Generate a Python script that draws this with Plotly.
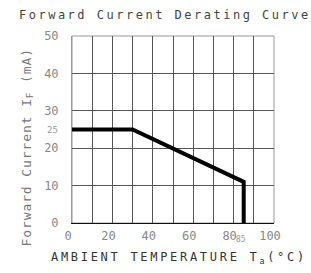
import plotly.graph_objects as go

# Data
temp = [0, 30, 85, 85]
current = [25, 25, 11, 0]
x_ticks = [0, 20, 40, 60, 80, 100]
y_ticks = [0, 10, 20, 30, 40, 50]
title_text = "Forward Current Derating Curve"
y_title = "Forward Current I<sub>F</sub> (mA)"
x_title = "AMBIENT TEMPERATURE T<sub>a</sub>(°C)"

FONT = "DejaVu Sans Mono"
GRID = "#555555"

fig = go.Figure()
fig.add_trace(go.Scatter(x=temp, y=current, mode="lines",
                         line=dict(color="black", width=4), showlegend=False,
                         hoverinfo="skip"))

fig.update_layout(
    template="none",
    width=311, height=273,
    margin=dict(l=72, r=37, t=36, b=50, pad=0, autoexpand=False),
    paper_bgcolor="white", plot_bgcolor="white",
    font=dict(family=FONT, color="#777777"),
)

PX = lambda px: (px - 72) / 202.0
PY = lambda py: (223 - py) / 187.0

# title as annotation for precise placement
fig.add_annotation(text='<span style="letter-spacing:2.5px">' + title_text + '</span>',
                   xref="paper", yref="paper",
                   x=PX(17), y=PY(15),
                   xanchor="left", yanchor="middle", showarrow=False,
                   font=dict(family=FONT, size=12, color="#444444"))

fig.update_xaxes(range=[0, 100], tickvals=x_ticks, automargin=False,
                 showgrid=True, gridcolor=GRID, gridwidth=1,
                 minor=dict(dtick=10, showgrid=True, gridcolor=GRID, gridwidth=1),
                 showline=True, linecolor="#111111", linewidth=1, mirror=False,
                 ticks="", ticklabelshift=-4, ticklabelstandoff=2,
                 tickfont=dict(family=FONT, size=12, color="#888888"),
                 zeroline=False, fixedrange=True)
fig.update_yaxes(range=[0, 50], tickvals=y_ticks, automargin=False,
                 showgrid=True, gridcolor=GRID, gridwidth=1,
                 showline=True, linecolor="#999999", linewidth=1,
                 ticks="", ticklabelstandoff=10,
                 tickfont=dict(family=FONT, size=12, color="#888888"),
                 zeroline=False, fixedrange=True)

# top and right borders
fig.add_shape(type="rect", xref="paper", yref="paper", x0=0, y0=0, x1=1, y1=1,
              line=dict(color="#999999", width=1), layer="below")

# small "25" label on y axis and "85" subscript on x axis
fig.add_annotation(text="25", xref="paper", yref="y", x=PX(60), y=25,
                   xanchor="right", yanchor="middle", showarrow=False,
                   font=dict(family=FONT, size=9, color="#999999"))
fig.add_annotation(text="85", xref="x", yref="paper", x=83.5, y=PY(240),
                   xanchor="center", yanchor="middle", showarrow=False,
                   font=dict(family=FONT, size=8, color="#999999"))

# axis titles
fig.add_annotation(text='<span style="letter-spacing:0.9px">' + y_title + '</span>',
                   xref="paper", yref="paper",
                   x=PX(27), y=PY(147.5), textangle=-90,
                   xanchor="center", yanchor="middle", showarrow=False,
                   font=dict(family=FONT, size=13, color="#777777"))
fig.add_annotation(text='<span style="letter-spacing:2.7px">' + x_title + '</span>',
                   xref="paper", yref="paper",
                   x=PX(179), y=PY(258),
                   xanchor="center", yanchor="middle", showarrow=False,
                   font=dict(family=FONT, size=12, color="#333333"))

fig.write_html("out.html", config={"displayModeBar": False},
               post_script="document.body.style.margin='0';")
